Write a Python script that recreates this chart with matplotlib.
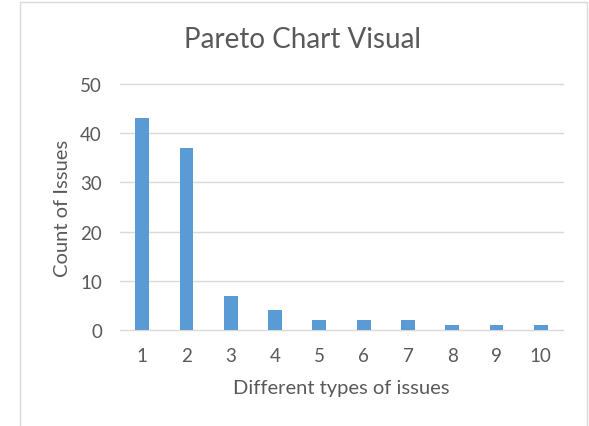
import matplotlib.pyplot as plt
from matplotlib.patches import Rectangle

issue_types = [1, 2, 3, 4, 5, 6, 7, 8, 9, 10]
issue_counts = [43, 37, 7, 4, 2, 2, 2, 1, 1, 1]
y_ticks = [0, 10, 20, 30, 40, 50]

plt.rcParams['font.family'] = ['Lato', 'DejaVu Sans']
text_color = '#595959'

fig = plt.figure(figsize=(5.89, 4.27), dpi=100)
ax = fig.add_axes([120 / 589, 1 - 331 / 427, 443 / 589, 246 / 427])

ax.bar(issue_types, issue_counts, width=0.31, color='#5b9bd5', zorder=3)

ax.set_xlim(0.5, 10.5)
ax.set_ylim(0, 50)
ax.set_xticks(issue_types)
ax.set_yticks(y_ticks)
ax.grid(axis='y', color='#d9d9d9', linewidth=1, zorder=0)
for gl in ax.get_ygridlines():
    gl.set_clip_on(False)
for s in ax.spines.values():
    s.set_visible(False)
ax.tick_params(length=0, labelsize=13.5, labelcolor=text_color)
ax.tick_params(axis='y', pad=13)
ax.tick_params(axis='x', pad=12)

fig.text(62 / 589, 1 - 208 / 427, 'Count of Issues', rotation=90,
         ha='center', va='center', fontsize=14.5, color=text_color)
fig.text(341 / 589, 1 - 389 / 427, 'Different types of issues',
         ha='center', va='center', fontsize=14.5, color=text_color)
fig.text(303 / 589, 1 - 40 / 427, 'Pareto Chart Visual',
         ha='center', va='center', fontsize=20, color=text_color)

# light frame around the chart area
fig.patches.append(Rectangle((20 / 589, -0.1), 567 / 589, 1.1 - 3 / 427,
                             transform=fig.transFigure, fill=False,
                             edgecolor='#d9d9d9', linewidth=1))

fig.savefig('out.png', dpi=100)
